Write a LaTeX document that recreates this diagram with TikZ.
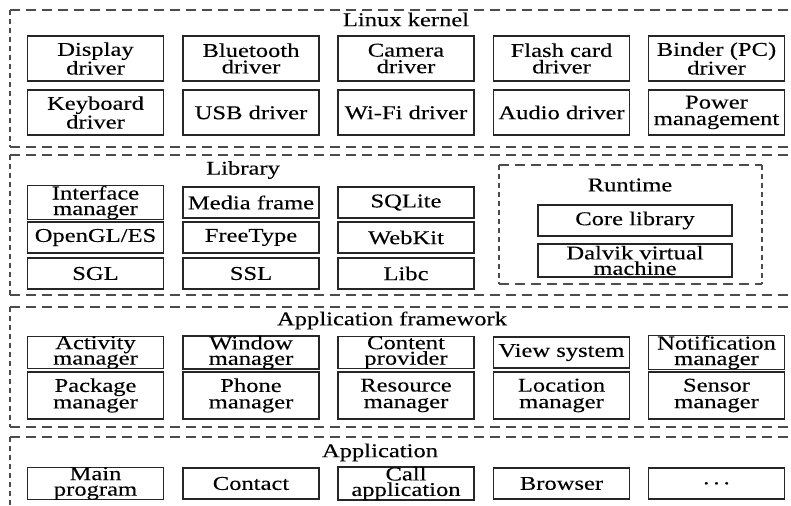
\documentclass[tikz,border=0pt]{standalone}
\usepackage{fontspec}
\setmainfont{Liberation Serif}[FakeStretch=1.26,FakeBold=0.15]
\begin{document}
\begin{tikzpicture}[x=1bp,y=-1bp,
  fnt/.style={font=\fontsize{19.5bp}{15.5bp}\selectfont},
  fntt/.style={font=\fontsize{19.5bp}{16.5bp}\selectfont},
  mod/.style={draw=black!85, line width=1.3bp, minimum width=136bp, inner sep=0pt, align=center, fnt, text=black},
  tall/.style={mod, fntt},
  ttl/.style={inner sep=0pt, fnt, text=black},
  hdash/.style={draw=black!70, line width=1.2bp, dash pattern=on 10bp off 6bp},
  vdash/.style={draw=black!70, line width=1.2bp, dash pattern=on 5bp off 4bp}]
\useasboundingbox (0,0) rectangle (791,506);

% ---------- Linux kernel layer ----------
\draw[hdash] (10,10) -- (791,10);
\draw[vdash] (10,10) -- (10,147);
\draw[hdash] (10,147) -- (791,147);
\node[ttl] (lk) at (406,19.5) {Linux kernel};
\node[tall, minimum height=45bp] (k1) at (95.5,58.5)  {Display\\driver};
\node[tall, minimum height=45bp] (k2) at (251,58.5)   {Bluetooth\\driver};
\node[tall, minimum height=45bp] (k3) at (406,58.5)   {Camera\\driver};
\node[tall, minimum height=45bp] (k4) at (561.5,58.5) {Flash card\\driver};
\node[tall, minimum height=45bp] (k5) at (716.5,58.5) {Binder (PC)\\driver};
\node[tall, minimum height=45bp] (k6) at (95.5,112.5)  {Keyboard\\driver};
\node[tall, minimum height=45bp] (k7) at (251,112.5)   {USB driver};
\node[tall, minimum height=45bp] (k8) at (406,112.5)   {Wi-Fi driver};
\node[tall, minimum height=45bp] (k9) at (561.5,112.5) {Audio driver};
\node[tall, minimum height=45bp] (k10) at (716.5,112.5) {Power\\management};

% ---------- Library layer ----------
\draw[hdash] (10,155) -- (791,155);
\draw[vdash] (10,155) -- (10,295);
\draw[hdash] (10,295) -- (791,295);
\node[ttl] (lib) at (243,170) {Library};
\node[mod, minimum height=31bp] (l1) at (95.5,202.5) {Interface\\manager};
\node[mod, minimum height=31bp] (l2) at (251,202.5)  {Media frame};
\node[mod, minimum height=31bp] (l3) at (406,202.5)  {SQLite};
\node[mod, minimum height=31bp] (l4) at (95.5,237.5) {OpenGL/ES};
\node[mod, minimum height=31bp] (l5) at (251,237.5)  {FreeType};
\node[mod, minimum height=31bp] (l6) at (406,237.5)  {WebKit};
\node[mod, minimum height=31bp] (l7) at (95.5,273.5) {SGL};
\node[mod, minimum height=31bp] (l8) at (251,273.5)  {SSL};
\node[mod, minimum height=31bp] (l9) at (406,273.5)  {Libc};

% Runtime
\draw[hdash] (499,165) -- (762,165);
\draw[hdash] (499,284) -- (762,284);
\draw[vdash] (499,165) -- (499,284);
\draw[vdash] (762,165) -- (762,284);
\node[ttl] (rt) at (630,185) {Runtime};
\node[mod, minimum width=194bp, minimum height=31bp] (r1) at (635,220.5) {Core library};
\node[mod, minimum width=194bp, minimum height=33bp] (r2) at (635,260.5) {Dalvik virtual\\machine};

% ---------- Application framework layer ----------
\draw[hdash] (10,307) -- (791,307);
\draw[vdash] (10,307) -- (10,427);
\draw[hdash] (10,427) -- (791,427);
\node[ttl] (af) at (392,320.5) {Application framework};
\node[mod, minimum height=31bp] (f1) at (95.5,352.5)  {Activity\\manager};
\node[mod, minimum height=31bp] (f2) at (251,352.5)   {Window\\manager};
\node[mod, minimum height=31bp] (f3) at (406,352.5)   {Content\\provider};
\node[mod, minimum height=31bp] (f4) at (561.5,352.5) {View system};
\node[mod, minimum height=31bp] (f5) at (716.5,352.5) {Notification\\manager};
\node[tall, minimum height=47bp] (f6) at (95.5,395.5)  {Package\\manager};
\node[tall, minimum height=47bp] (f7) at (251,395.5)   {Phone\\manager};
\node[tall, minimum height=47bp] (f8) at (406,395.5)   {Resource\\manager};
\node[tall, minimum height=47bp] (f9) at (561.5,395.5) {Location\\manager};
\node[tall, minimum height=47bp] (f10) at (716.5,395.5) {Sensor\\manager};

% ---------- Application layer ----------
\draw[hdash] (10,437) -- (791,437);
\draw[vdash] (10,437) -- (10,506);
\node[ttl] (ap) at (380,452.5) {Application};
\node[mod, minimum height=31bp] (a1) at (95.5,483.5)  {Main\\program};
\node[mod, minimum height=31bp] (a2) at (251,483.5)   {Contact};
\node[mod, minimum height=31bp] (a3) at (406,483.5)   {Call\\application};
\node[mod, minimum height=31bp] (a4) at (561.5,483.5) {Browser};
\node[mod, minimum height=31bp] (a5) at (716.5,483.5) {};
\node[ttl] (a5t) at (716.5,486) {·\kern2bp·\kern2bp·};
\end{tikzpicture}
\end{document}
